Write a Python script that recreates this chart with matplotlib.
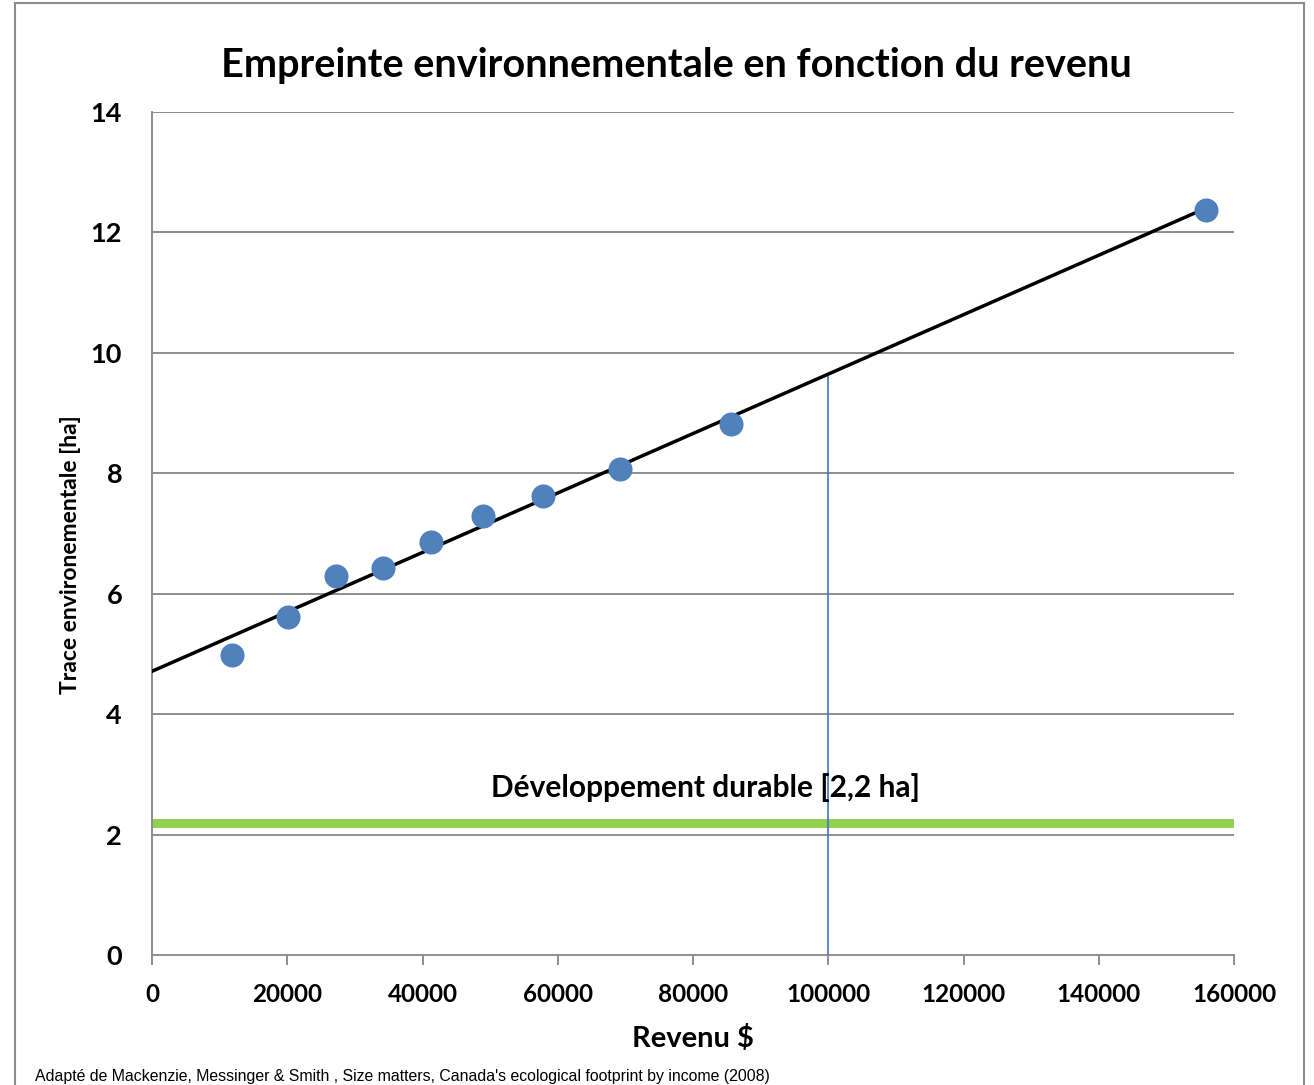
import numpy as np
import matplotlib
matplotlib.use("Agg")
import matplotlib.pyplot as plt
from matplotlib.patches import Rectangle

# data
revenu = [11800, 20100, 27200, 34200, 41300, 48900, 57800, 69200, 85600, 155900]
trace = [4.98, 5.61, 6.30, 6.43, 6.86, 7.29, 7.62, 8.07, 8.82, 12.38]
seuil_durable = 2.2
revenu_repere = 100000
x_ticks = [0, 20000, 40000, 60000, 80000, 100000, 120000, 140000, 160000]
y_ticks = [0, 2, 4, 6, 8, 10, 12, 14]

plt.rcParams['font.family'] = ['Lato', 'DejaVu Sans']

fig = plt.figure(figsize=(13.14, 10.85), dpi=100)
ax = fig.add_axes([152 / 1314, 1 - 955 / 1085, (1234 - 152) / 1314, (955 - 112) / 1085])

# outer frame of the chart
fig.patches.append(Rectangle((15 / 1314, -0.01), (1304 - 15) / 1314, 1 - 3 / 1085 + 0.01,
                             transform=fig.transFigure, fill=False,
                             edgecolor='#8c8c8c', linewidth=1.5))

grid_col = '#868686'
for y in y_ticks[1:]:
    ax.axhline(y, color=grid_col, linewidth=1.3, zorder=1)

# linear trend line from 0 to the last point
slope, intercept = np.polyfit(revenu, trace, 1)
xt = np.array([0, max(revenu)])
ax.plot(xt, slope * xt + intercept, color='black', linewidth=2.5, zorder=3)

# sustainable development line
ax.axhline(seuil_durable, color='#92D050', linewidth=6.5, zorder=2)
ax.text(81800, 2.78, 'Développement durable [2,2 ha]', ha='center', va='center',
        fontsize=21.5, fontweight='bold')

# vertical marker at 100000 up to the trend line
ax.plot([revenu_repere, revenu_repere], [0, slope * revenu_repere + intercept],
        color='#4472C4', linewidth=1.2, zorder=2)

ax.scatter(revenu, trace, s=300, color='#4F81BD', zorder=4, linewidths=0)

ax.set_xlim(0, 160000)
ax.set_ylim(0, 14)
ax.set_xticks(x_ticks)
ax.set_yticks(y_ticks)
ax.set_xticklabels([str(v) for v in x_ticks], fontsize=17.5, fontweight='bold')
ax.set_yticklabels([str(v) for v in y_ticks], fontsize=19.5, fontweight='bold')
ax.tick_params(axis='x', direction='out', length=7, width=1.3, color=grid_col, pad=13)
ax.tick_params(axis='y', length=0, pad=21.5)

for side in ['top', 'right']:
    ax.spines[side].set_visible(False)
for side in ['left', 'bottom']:
    ax.spines[side].set_color(grid_col)
    ax.spines[side].set_linewidth(1.3)

ax.set_xlabel('Revenu $', fontsize=21, fontweight='bold', labelpad=14)
ax.set_ylabel('Trace environementale [ha]', fontsize=16.5, fontweight='bold')
ax.yaxis.set_label_coords(-0.066, 0.475)

fig.text(676 / 1314, 1 - 65 / 1085, 'Empreinte environnementale en fonction du revenu',
         ha='center', va='center', fontsize=28.5, fontweight='bold')

fig.text(35 / 1314, 1 - 1077 / 1085,
         "Adapté de Mackenzie, Messinger & Smith , Size matters, Canada's ecological footprint by income (2008)",
         ha='left', va='center', fontsize=11.4, family=['Liberation Sans', 'DejaVu Sans'])

fig.savefig('out.png', dpi=100)
